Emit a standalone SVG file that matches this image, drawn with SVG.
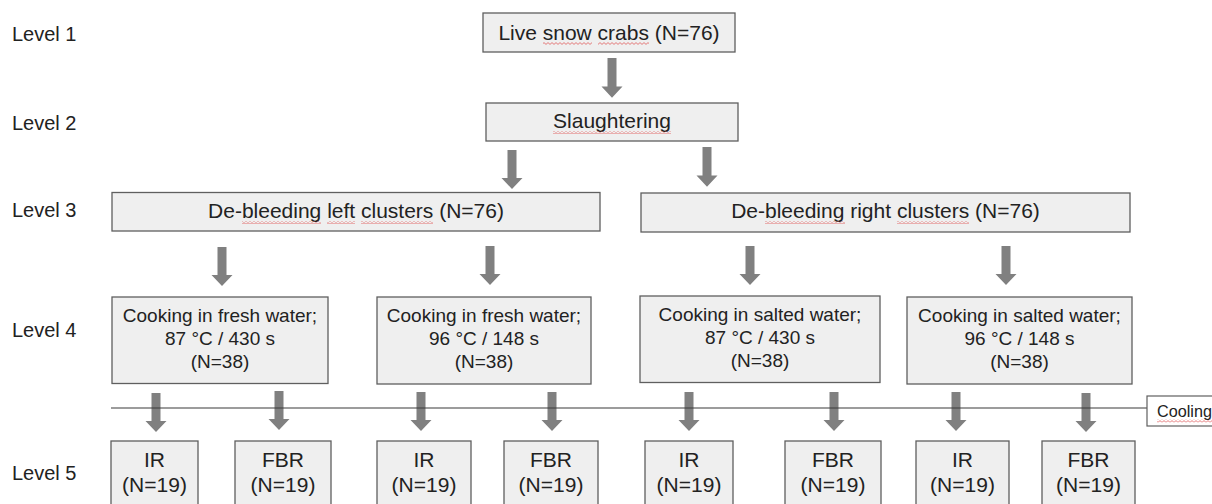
<svg xmlns="http://www.w3.org/2000/svg" width="1212" height="504" viewBox="0 0 1212 504">
  <style>
    .box { fill: #efefef; stroke: #5f5f5f; stroke-width: 1.3; }
    .t { font-family: "Liberation Sans", Arial, sans-serif; font-size: 21px; fill: #222; text-anchor: middle; }
    .t4 { font-family: "Liberation Sans", Arial, sans-serif; font-size: 19px; fill: #222; text-anchor: middle; }
    .lvl { font-family: "Liberation Sans", Arial, sans-serif; font-size: 20px; fill: #222; }
    .arrow { fill: #808080; }
    .sq { fill: url(#squig); }
  </style>
  <defs>
    <path id="arr" d="M-4.5 0 H4.5 V28 H10.5 L0 39 L-10.5 28 H-4.5 Z"/>
    <pattern id="squig" patternUnits="userSpaceOnUse" width="4" height="3">
      <path d="M0 0.6 L2 2.4 L4 0.6" fill="none" stroke="#e05a5a" stroke-width="0.8"/>
    </pattern>
  </defs>

  <g id="levels">
    <text class="lvl" x="12" y="41">Level 1</text>
    <text class="lvl" x="12" y="130">Level 2</text>
    <text class="lvl" x="12" y="217">Level 3</text>
    <text class="lvl" x="12" y="337">Level 4</text>
    <text class="lvl" x="12" y="480">Level 5</text>
  </g>

  <g id="connectors" class="arrow">
    <use href="#arr" transform="translate(612,58) scale(1,1.02)"/>
    <use href="#arr" transform="translate(512,150)"/>
    <use href="#arr" transform="translate(707,147) scale(1,1.02)"/>
    <use href="#arr" transform="translate(222,247)"/>
    <use href="#arr" transform="translate(490,246)"/>
    <use href="#arr" transform="translate(750,246)"/>
    <use href="#arr" transform="translate(1006,246)"/>
    <use href="#arr" transform="translate(156,393)"/>
    <use href="#arr" transform="translate(279,391)"/>
    <use href="#arr" transform="translate(421,392)"/>
    <use href="#arr" transform="translate(552,392)"/>
    <use href="#arr" transform="translate(689,392)"/>
    <use href="#arr" transform="translate(834,392)"/>
    <use href="#arr" transform="translate(956,392)"/>
    <use href="#arr" transform="translate(1086,393)"/>
  </g>

  <g id="cooling-line">
    <line x1="111" y1="408" x2="1147" y2="408" stroke="#3a3a3a" stroke-width="1.1"/>
  </g>
  <g id="cooling">
    <rect x="1147" y="396" width="70" height="30" fill="#fff" stroke="#5f5f5f" stroke-width="1.2"/>
    <text x="1157" y="417" font-family="Liberation Sans, Arial, sans-serif" font-size="16.2" fill="#222">Cooling</text>
    <rect class="sq" x="1157" y="419.5" width="55" height="3"/>
  </g>

  <g id="n1">
    <rect class="box" x="483" y="13" width="252" height="39"/>
    <text class="t" x="609" y="40">Live snow crabs (N=76)</text>
    <rect class="sq" x="543" y="42" width="49" height="3"/>
    <rect class="sq" x="598" y="42" width="51" height="3"/>
  </g>

  <g id="n2">
    <rect class="box" x="486" y="103" width="252" height="38"/>
    <text class="t" x="612" y="128">Slaughtering</text>
    <rect class="sq" x="553" y="131" width="118" height="3"/>
  </g>

  <g id="n3-left">
    <rect class="box" x="112" y="192.5" width="488" height="38.5"/>
    <text class="t" x="356" y="218">De-bleeding left clusters (N=76)</text>
    <rect class="sq" x="242" y="221" width="79" height="3"/>
    <rect class="sq" x="327" y="221" width="28" height="3"/>
    <rect class="sq" x="361" y="221" width="72" height="3"/>
  </g>

  <g id="n3-right">
    <rect class="box" x="641" y="193" width="489" height="39"/>
    <text class="t" x="885.5" y="218">De-bleeding right clusters (N=76)</text>
    <rect class="sq" x="765" y="221" width="80" height="3"/>
    <rect class="sq" x="897" y="221" width="72" height="3"/>
  </g>

  <g id="n4-a">
    <rect class="box" x="112" y="297" width="216" height="86.5"/>
    <text class="t4" x="220" y="322">Cooking in fresh water;</text>
    <text class="t4" x="220" y="345">87 °C / 430 s</text>
    <text class="t4" x="220" y="368">(N=38)</text>
  </g>
  <g id="n4-b">
    <rect class="box" x="377" y="297" width="214" height="87"/>
    <text class="t4" x="484" y="322">Cooking in fresh water;</text>
    <text class="t4" x="484" y="345">96 °C / 148 s</text>
    <text class="t4" x="484" y="368">(N=38)</text>
  </g>
  <g id="n4-c">
    <rect class="box" x="640" y="296" width="240" height="86.5"/>
    <text class="t4" x="760" y="321">Cooking in salted water;</text>
    <text class="t4" x="760" y="344">87 °C / 430 s</text>
    <text class="t4" x="760" y="367">(N=38)</text>
  </g>
  <g id="n4-d">
    <rect class="box" x="907" y="297" width="225" height="87"/>
    <text class="t4" x="1019.5" y="322">Cooking in salted water;</text>
    <text class="t4" x="1019.5" y="345">96 °C / 148 s</text>
    <text class="t4" x="1019.5" y="368">(N=38)</text>
  </g>

  <g id="n5-ir1">
    <rect class="box" x="111" y="441" width="87" height="75"/>
    <text class="t" x="154.5" y="467">IR</text>
    <text class="t" x="154.5" y="492">(N=19)</text>
  </g>
  <g id="n5-fbr1">
    <rect class="box" x="235" y="441" width="96" height="75"/>
    <text class="t" x="283" y="467">FBR</text>
    <text class="t" x="283" y="492">(N=19)</text>
  </g>
  <g id="n5-ir2">
    <rect class="box" x="377" y="441" width="94" height="75"/>
    <text class="t" x="424" y="467">IR</text>
    <text class="t" x="424" y="492">(N=19)</text>
  </g>
  <g id="n5-fbr2">
    <rect class="box" x="504" y="441" width="94" height="75"/>
    <text class="t" x="551" y="467">FBR</text>
    <text class="t" x="551" y="492">(N=19)</text>
  </g>
  <g id="n5-ir3">
    <rect class="box" x="645" y="441" width="88" height="75"/>
    <text class="t" x="689" y="467">IR</text>
    <text class="t" x="689" y="492">(N=19)</text>
  </g>
  <g id="n5-fbr3">
    <rect class="box" x="785" y="441" width="96" height="75"/>
    <text class="t" x="833" y="467">FBR</text>
    <text class="t" x="833" y="492">(N=19)</text>
  </g>
  <g id="n5-ir4">
    <rect class="box" x="916" y="441" width="93" height="75"/>
    <text class="t" x="962.5" y="467">IR</text>
    <text class="t" x="962.5" y="492">(N=19)</text>
  </g>
  <g id="n5-fbr4">
    <rect class="box" x="1042" y="441" width="93" height="75"/>
    <text class="t" x="1088.5" y="467">FBR</text>
    <text class="t" x="1088.5" y="492">(N=19)</text>
  </g>
</svg>
